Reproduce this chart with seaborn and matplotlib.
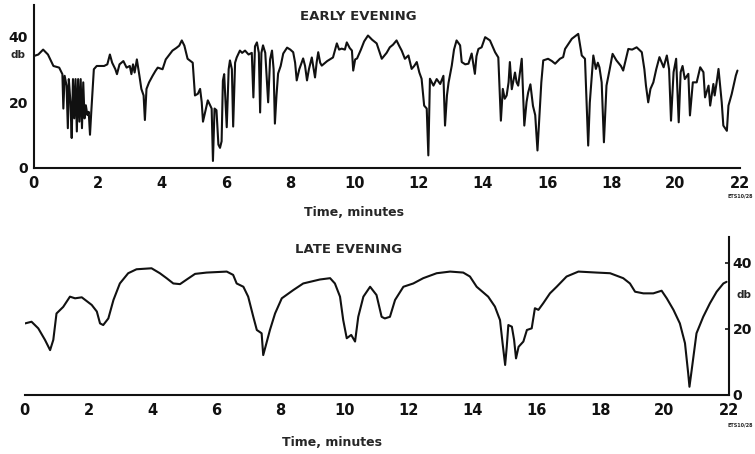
import matplotlib
matplotlib.use("Agg")
import matplotlib.pyplot as plt
import seaborn as sns
import pandas as pd

# ---------------- data ----------------
early_t = [0.00, 0.15, 0.30, 0.45, 0.62, 0.80, 0.90, 0.93, 0.97, 1.03, 1.07, 1.10, 1.15, 1.19, 1.23,
           1.27, 1.31, 1.35, 1.39, 1.43, 1.47, 1.51, 1.55, 1.59, 1.63, 1.68, 1.72, 1.76, 1.80, 1.88,
           1.97, 2.20, 2.30, 2.38, 2.45, 2.55, 2.60, 2.68, 2.80, 2.90, 3.00, 3.05, 3.10, 3.15, 3.22,
           3.30, 3.36, 3.43, 3.47, 3.52, 3.60, 3.71, 3.80, 3.87, 4.02, 4.12, 4.33, 4.45, 4.54, 4.62,
           4.70, 4.80, 4.96, 5.03, 5.12, 5.19, 5.24, 5.28, 5.35, 5.43, 5.50, 5.55, 5.59, 5.64, 5.70,
           5.76, 5.81, 5.86, 5.90, 5.94, 6.02, 6.08, 6.12, 6.18, 6.22, 6.28, 6.33, 6.43, 6.50, 6.59,
           6.70, 6.80, 6.85, 6.90, 6.96, 7.02, 7.06, 7.10, 7.15, 7.22, 7.31, 7.37, 7.43, 7.48, 7.52,
           7.57, 7.62, 7.70, 7.78, 7.90, 8.00, 8.09, 8.15, 8.20, 8.28, 8.40, 8.46, 8.52, 8.58, 8.67,
           8.73, 8.77, 8.82, 8.87, 8.93, 8.98, 9.15, 9.33, 9.45, 9.52, 9.60, 9.70, 9.76, 9.85, 9.92,
           9.96, 10.02, 10.08, 10.20, 10.30, 10.42, 10.55, 10.69, 10.85, 11.00, 11.10, 11.20, 11.31,
           11.40, 11.47, 11.57, 11.68, 11.78, 11.86, 11.94, 12.02, 12.09, 12.17, 12.25, 12.30, 12.35,
           12.46, 12.56, 12.67, 12.77, 12.82, 12.88, 12.93, 13.03, 13.10, 13.18, 13.29, 13.34, 13.45,
           13.55, 13.65, 13.75, 13.80, 13.86, 13.96, 14.07, 14.22, 14.38, 14.48, 14.56, 14.62, 14.68,
           14.74, 14.80, 14.84, 14.90, 15.00, 15.05, 15.10, 15.21, 15.29, 15.36, 15.41, 15.48, 15.56,
           15.63, 15.70, 15.77, 15.82, 15.88, 16.03, 16.15, 16.25, 16.40, 16.50, 16.56, 16.77, 16.97,
           17.08, 17.18, 17.28, 17.33, 17.44, 17.52, 17.58, 17.63, 17.70, 17.77, 17.85, 17.95, 18.04,
           18.16, 18.30, 18.37, 18.53, 18.65, 18.79, 18.95, 19.03, 19.08, 19.15, 19.22, 19.31, 19.40,
           19.50, 19.63, 19.73, 19.80, 19.86, 19.94, 20.02, 20.10, 20.16, 20.22, 20.29, 20.40, 20.45,
           20.54, 20.66, 20.77, 20.87, 20.92, 21.03, 21.08, 21.18, 21.22, 21.29, 21.34, 21.44, 21.49,
           21.60, 21.65, 21.75, 21.88, 21.93]
early_db = [34, 34.5, 36, 34.5, 31, 30.5, 28.5, 18, 28, 25, 12, 27, 20, 9, 27,
            15, 27, 11, 27, 14, 27, 12, 26, 15, 19, 16, 17, 10, 17, 30,
            31, 31, 31.5, 34.5, 32, 30, 28.5, 31.5, 32.5, 30.5, 31, 28.5, 31.5, 29, 33,
            28, 24, 22, 14.5, 24, 26, 28, 29.5, 30.5, 30, 33, 35.7, 36.5, 37.2, 38.8,
            37.2, 33.2, 32, 22, 22.5, 24, 20, 14, 17, 20.5, 19, 18, 2, 18, 17.5,
            7, 6, 8, 26.5, 28.5, 12.3, 30, 32.7, 30, 12.5, 32, 33.6, 35.7, 35, 35.7,
            34.5, 35, 21.4, 37, 38.2, 35, 16.8, 35, 37.3, 35, 19.9, 33, 35.7, 30, 13.4,
            22, 28.7, 31, 34.8, 36.6, 36, 35.2, 32, 26.6, 30, 33.3, 31, 26.6, 30, 33.6,
            30, 27.5, 32, 35.2, 32, 31.1, 32.5, 33.6, 37.9, 36, 36.3, 36, 38.2, 36.5, 35.7,
            29.6, 33, 33.3, 36, 38.5, 40.3, 39, 37.9, 33.2, 35, 36.7, 37.5, 38.8,
            37, 35.7, 33.2, 34.2, 30.1, 31, 32.2, 29, 27.1, 18.9, 18, 3.7, 27.1,
            25, 27, 25.5, 28, 12.8, 22, 25.9, 31.1, 36, 38.8, 37.3, 32.2, 31.5,
            31.7, 34.8, 28.6, 34, 36.2, 36.7, 39.8, 38.8, 35.2, 33.6, 14.3, 24, 21,
            22, 26, 32.2, 23.9, 29, 26, 25, 33.2, 12.8, 20, 22.9, 25.4, 18.8,
            16, 5.2, 17.3, 26, 32.7, 33.2, 32.5, 31.7, 33.2, 33.7, 36.2, 39.3, 40.8,
            34.2, 33.2, 6.7, 19.8, 34.2, 30.1, 32, 30.6, 26, 7.7, 25, 30, 34.7,
            32.7, 31, 29.6, 36.2, 36, 36.7, 35.2, 30, 25, 19.9, 24, 26, 30,
            33.7, 30.6, 34.2, 30, 14.3, 29.1, 33.2, 13.8, 29.1, 31, 27, 28.6, 15.9,
            26, 26, 30.6, 29.1, 21.4, 25, 18.9, 25.5, 22, 26.5, 30.1, 19.9, 12.8,
            11.2, 18.9, 22.4, 28.1, 29.6]

late_t = [0.02, 0.22, 0.43, 0.64, 0.80, 0.90, 1.00, 1.21, 1.42, 1.58, 1.79, 2.10, 2.26, 2.36,
          2.46, 2.62, 2.78, 2.98, 3.24, 3.50, 3.97, 4.23, 4.44, 4.65, 4.86, 5.07, 5.33, 5.69,
          6.32, 6.52, 6.63, 6.84, 6.99, 7.15, 7.26, 7.41, 7.46, 7.53, 7.67, 7.83, 8.04, 8.40,
          8.71, 9.23, 9.55, 9.70, 9.86, 9.96, 10.07, 10.21, 10.33, 10.43, 10.59, 10.80, 11.00,
          11.16, 11.26, 11.42, 11.58, 11.84, 12.15, 12.46, 12.88, 13.30, 13.71, 13.92, 14.13,
          14.49, 14.70, 14.86, 14.94, 15.02, 15.07, 15.12, 15.23, 15.30, 15.36, 15.44, 15.59,
          15.70, 15.85, 15.95, 16.06, 16.21, 16.42, 16.63, 16.94, 17.31, 17.88, 18.30, 18.71,
          18.92, 19.08, 19.34, 19.65, 19.91, 20.07, 20.28, 20.48, 20.64, 20.74, 20.78, 20.85,
          21.00, 21.21, 21.42, 21.63, 21.84, 21.94]
late_db = [21.7, 22.2, 20.2, 16.7, 13.6, 16.7, 24.7, 26.7, 29.8, 29.3, 29.6, 27.3, 25.3, 21.7,
           21.2, 23.2, 28.8, 33.8, 36.9, 38.1, 38.4, 36.9, 35.4, 33.8, 33.6, 35.0, 36.7, 37.1,
           37.4, 36.4, 33.8, 32.8, 29.8, 23.7, 19.7, 18.7, 12.1, 14.6, 19.7, 24.7, 29.3, 31.8,
           33.8, 35.0, 35.4, 33.8, 29.8, 22.7, 17.2, 18.2, 16.2, 23.7, 29.8, 32.8, 30.3,
           23.7, 23.2, 23.7, 28.8, 32.8, 33.8, 35.4, 36.9, 37.4, 37.1, 35.9, 32.8,
           29.8, 26.8, 22.7, 15.7, 9.1, 14.6, 21.2, 20.7, 16.7, 11.1, 14.6, 16.2,
           19.7, 20.2, 26.3, 25.8, 27.8, 30.8, 32.8, 35.9, 37.4, 37.1, 36.9, 35.4,
           33.8, 31.3, 30.8, 30.8, 31.6, 29.3, 25.8, 21.7, 15.7, 6.6, 2.5, 7.6,
           18.7, 23.7, 27.8, 31.3, 33.8, 34.3]

x_ticks = [0, 2, 4, 6, 8, 10, 12, 14, 16, 18, 20, 22]
y_ticks = [0, 20, 40]
title_top = "EARLY EVENING"
title_bottom = "LATE EVENING"
x_label = "Time, minutes"
unit_label = "db"
code_label = "ETS10/28"

# ---------------- style ----------------
sns.set_style("white")
plt.rcParams['font.family'] = ['DejaVu Sans']
plt.rcParams['font.weight'] = 'bold'

W, H = 755, 454
fig = plt.figure(figsize=(W / 100, H / 100), dpi=100)

def frac(l, t, r, b):
    return [l / W, 1 - b / H, (r - l) / W, (b - t) / H]

ax1 = fig.add_axes(frac(33.5, 5, 739.7, 167.5))
ax2 = fig.add_axes(frac(24.5, 237, 728.5, 395))

df1 = pd.DataFrame({"t": early_t, "db": early_db})
df2 = pd.DataFrame({"t": late_t, "db": late_db})
sns.lineplot(data=df1, x="t", y="db", ax=ax1, color="#111111", linewidth=1.5, sort=False)
sns.lineplot(data=df2, x="t", y="db", ax=ax2, color="#111111", linewidth=1.5, sort=False)

for ax, ytop in ((ax1, 162.5 / 3.275), (ax2, 158 / 3.3)):
    ax.set_xlim(0, 22)
    ax.set_ylim(0, ytop)
    ax.set_xticks(x_ticks)
    ax.set_xticklabels([str(v) for v in x_ticks], fontsize=10.5, fontweight='bold')
    ax.set_yticks(y_ticks)
    ax.set_yticklabels([str(v) for v in y_ticks], fontsize=10, fontweight='bold')
    ax.set_xlabel("")
    ax.set_ylabel("")
    ax.set_facecolor("none")
    for s in ax.spines.values():
        s.set_color("#111111")
        s.set_linewidth(1.5)
    ax.spines["top"].set_visible(False)
    ax.tick_params(axis="x", direction="in", length=3, width=1.2, colors="#111111", pad=6)
    ax.tick_params(axis="y", direction="in", length=3, width=1.2, colors="#111111", pad=4)

ax1.spines["right"].set_visible(False)
ax2.spines["left"].set_visible(False)
ax2.yaxis.tick_right()
ax2.tick_params(axis="y", left=False, right=True, labelleft=False, labelright=True, pad=3)

# unit labels
ax1.annotate(unit_label, xy=(0, 34.2), xycoords=("axes fraction", "data"), xytext=(-6, 0),
             textcoords="offset points", ha="right", va="center", fontsize=7.5, fontweight="bold")
ax2.annotate(unit_label, xy=(1, 30.3), xycoords=("axes fraction", "data"), xytext=(6, 0),
             textcoords="offset points", ha="left", va="center", fontsize=7.5, fontweight="bold")

# titles and axis labels
fig.text(358 / W, 1 - 17 / H, title_top, ha="center", va="center", fontsize=9.5, fontweight="bold")
fig.text(349 / W, 1 - 250 / H, title_bottom, ha="center", va="center", fontsize=9.5, fontweight="bold")
fig.text(354 / W, 1 - 212 / H, x_label, ha="center", va="center", fontsize=9, fontweight="bold")
fig.text(332 / W, 1 - 442 / H, x_label, ha="center", va="center", fontsize=9, fontweight="bold")
fig.text(740 / W, 1 - 196 / H, code_label, ha="center", va="center", fontsize=3.5, fontweight="bold")
fig.text(740 / W, 1 - 425 / H, code_label, ha="center", va="center", fontsize=3.5, fontweight="bold")

fig.savefig("out.png", dpi=100, facecolor="white")
